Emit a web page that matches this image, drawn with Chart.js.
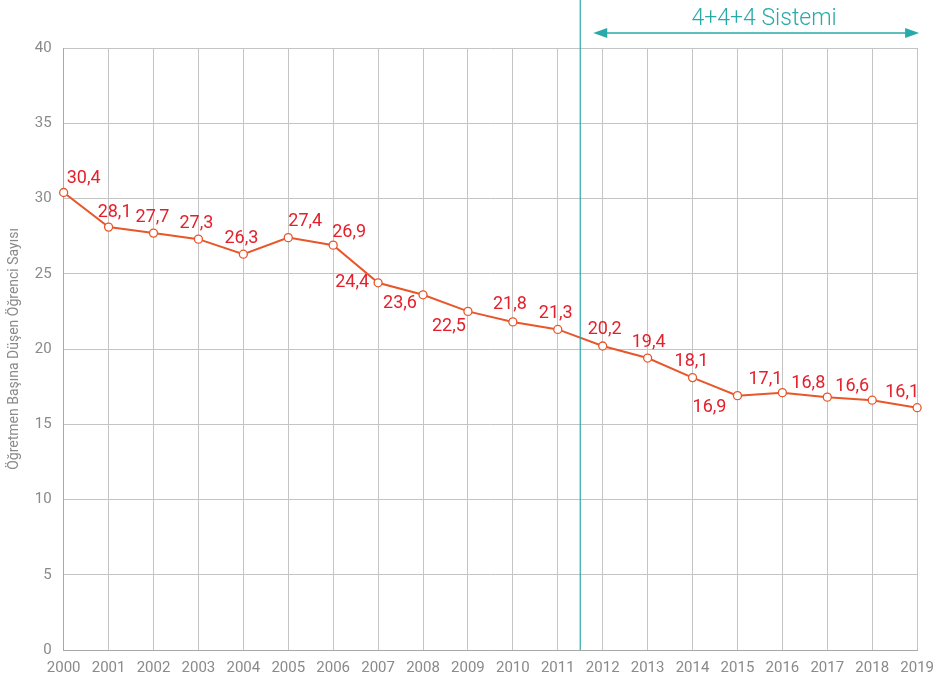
<!DOCTYPE html>
<html>
<head>
<meta charset="utf-8">
<script src="https://cdn.jsdelivr.net/npm/chart.js@4.4.0/dist/chart.umd.min.js"></script>
<style>
  html, body { margin: 0; padding: 0; background: #fff; }
  #wrap { width: 943px; height: 683px; }
</style>
</head>
<body>
<div id="wrap"><canvas id="ratioChart"></canvas></div>
<script>
// years and teacher/student ratio
var years = ['2000', '2001', '2002', '2003', '2004', '2005', '2006', '2007', '2008', '2009',
             '2010', '2011', '2012', '2013', '2014', '2015', '2016', '2017', '2018', '2019'];
var ratios = [30.4, 28.1, 27.7, 27.3, 26.3, 27.4, 26.9, 24.4, 23.6, 22.5,
              21.8, 21.3, 20.2, 19.4, 18.1, 16.9, 17.1, 16.8, 16.6, 16.1];
var yTicks = [0, 5, 10, 15, 20, 25, 30, 35, 40];
var reformStart = '2012';
var reformLabel = '4+4+4 Sistemi';
var yTitle = 'Öğretmen Başına Düşen Öğrenci Sayısı';

// where each value label sits relative to its point (label centre)
var labelShift = [[20, -14], [6, -15], [-1, -16], [-2, -16], [-2, -16], [17, -16], [16, -13],
                  [-26, 0], [-23, 9], [-19, 15], [-3, -17], [-2, -16], [2, -16], [1, -16],
                  [-1, -16], [-28, 12], [-17, -13], [-19, -14], [-20, -14], [-15, -15]];

var teal = '#2aa9a9';
var orange = '#e8562a';
var red = '#e3202b';
var grey = '#8a8a8a';

var valueLabels = {
    id: 'valueLabels',
    afterDatasetsDraw: function(chart) {
        var ctx = chart.ctx;
        var meta = chart.getDatasetMeta(0);
        ctx.save();
        ctx.font = '18px Roboto';
        ctx.fillStyle = red;
        ctx.textAlign = 'center';
        ctx.textBaseline = 'middle';
        meta.data.forEach(function(pt, i) {
            var txt = ratios[i].toFixed(1).replace('.', ',');
            ctx.fillText(txt, pt.x + labelShift[i][0], pt.y + labelShift[i][1]);
        });
        ctx.restore();
    }
};

var reformMarker = {
    id: 'reformMarker',
    afterDraw: function(chart) {
        var ctx = chart.ctx;
        var xs = chart.scales.x;
        var area = chart.chartArea;
        var idx = years.indexOf(reformStart);
        var lineX = (xs.getPixelForValue(idx - 1) + xs.getPixelForValue(idx)) / 2;
        ctx.save();
        ctx.strokeStyle = teal;
        ctx.lineWidth = 1.2;
        ctx.beginPath();
        ctx.moveTo(lineX, 0);
        ctx.lineTo(lineX, area.bottom);
        ctx.stroke();

        var ay = 33;
        var x1 = lineX + 13, x2 = area.right + 2;
        ctx.lineWidth = 1.5;
        ctx.beginPath();
        ctx.moveTo(x1 + 8, ay);
        ctx.lineTo(x2 - 8, ay);
        ctx.stroke();
        ctx.fillStyle = teal;
        ctx.beginPath();
        ctx.moveTo(x1, ay);
        ctx.lineTo(x1 + 14, ay - 5);
        ctx.lineTo(x1 + 14, ay + 5);
        ctx.closePath();
        ctx.fill();
        ctx.beginPath();
        ctx.moveTo(x2, ay);
        ctx.lineTo(x2 - 14, ay - 5);
        ctx.lineTo(x2 - 14, ay + 5);
        ctx.closePath();
        ctx.fill();

        ctx.font = '300 23px Roboto';
        ctx.textAlign = 'center';
        ctx.textBaseline = 'middle';
        ctx.fillText(reformLabel, (x1 + x2) / 2 + 8, 19);
        ctx.restore();
    }
};

var ratioChart = new Chart(document.getElementById('ratioChart'), {
    type: 'line',
    data: {
        labels: years,
        datasets: [{
            data: ratios,
            borderColor: orange,
            borderWidth: 2,
            pointRadius: 4,
            pointBackgroundColor: '#fff',
            pointBorderColor: orange,
            pointBorderWidth: 1.3,
            tension: 0
        }]
    },
    options: {
        responsive: true,
        maintainAspectRatio: false,
        animation: false,
        layout: { padding: { top: 48, right: 25, left: 6, bottom: -3 } },
        plugins: {
            legend: { display: false },
            tooltip: { enabled: false }
        },
        scales: {
            x: {
                offset: false,
                grid: { color: '#c4c4c4', lineWidth: 1, drawTicks: false },
                border: { color: '#a8a8a8' },
                ticks: {
                    color: grey,
                    font: { family: 'Roboto', size: 15 },
                    padding: 9,
                    maxRotation: 0,
                    autoSkip: false
                }
            },
            y: {
                min: 0,
                max: 40,
                afterBuildTicks: function(axis) {
                    axis.ticks = yTicks.map(function(v) { return { value: v }; });
                },
                grid: { color: '#c4c4c4', lineWidth: 1, drawTicks: false },
                border: { color: '#a8a8a8' },
                ticks: {
                    color: grey,
                    font: { family: 'Roboto', size: 15 },
                    padding: 12
                },
                title: {
                    display: true,
                    text: yTitle,
                    color: grey,
                    font: { family: 'Roboto', size: 14 },
                    padding: { top: 0, bottom: 0 }
                }
            }
        }
    },
    plugins: [valueLabels, reformMarker]
});
</script>
</body>
</html>
